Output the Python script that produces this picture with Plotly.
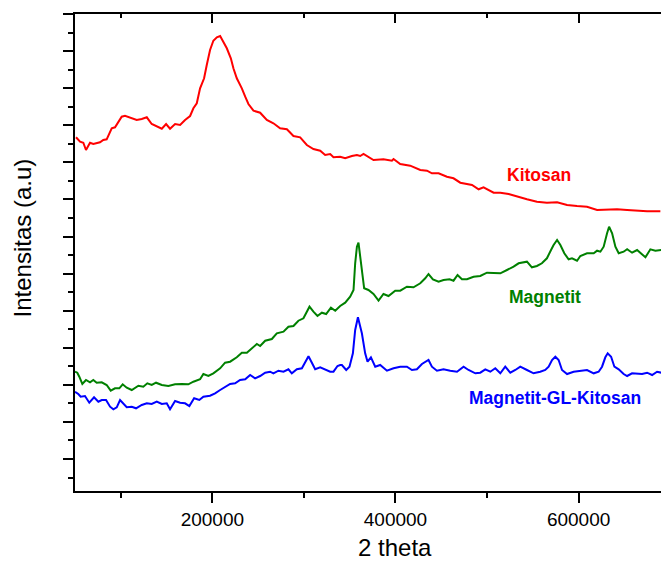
import plotly.graph_objects as go

# ---- data (2 theta, intensity in arbitrary units) ----
kitosan_x = [51100, 55500, 59100, 62000, 66400, 70000, 77300, 80900, 84600, 90100, 93700, 97300,
             101000, 104600, 110100, 117400, 122900, 128400, 133800, 139300, 144800, 149500, 153800,
             159300, 164800, 170200, 175700, 179300, 183000, 186600, 191000, 193900, 197500, 201100,
             204900, 208500, 212100, 215800, 220200, 223000, 226700, 232200, 235900, 239400, 244900,
             252200, 259500, 266700, 274000, 281400, 288600, 295900, 303200, 310400, 317800, 323200,
             328700, 332300, 339600, 345100, 352400, 357900, 361500, 365100, 376000, 386900, 396100,
             397900, 405200, 416100, 427100, 434400, 439800, 447100, 456200, 463400, 470800, 478100,
             483600, 490800, 496200, 507200, 514500, 523600, 532700, 543600, 554500, 565400, 576500,
             587400, 598300, 609200, 620200, 631100, 642000, 653000, 663900, 674800, 689300]
kitosan_y = [353.7, 349.3, 348.3, 341, 348.3, 347, 348.7, 351, 351.7, 362.7, 363.7, 368.3,
             374.3, 375.3, 373.7, 371, 372, 373.7, 367, 365, 362.3, 367, 362.3,
             367, 366, 371, 375, 382.7, 387.7, 402.7, 412.7, 426, 441, 450.3,
             453.7, 455, 449.3, 442.7, 432.7, 422.7, 412.7, 402.7, 394.3, 387, 380.3,
             378.3, 371, 367.7, 362.7, 361.7, 355, 353.7, 346, 342, 340.3, 336,
             337, 333.7, 334.3, 332.7, 335, 336, 335, 337, 331, 331.7, 330.3,
             332, 327, 325.3, 321, 320.3, 317.7, 317.7, 314.3, 312.7, 308.3, 307,
             306, 301.7, 303.7, 298.3, 298.3, 297, 294.3, 291.7, 289.3, 288.3, 288.7,
             286, 285, 284.3, 281, 281.7, 281.7, 281, 280.3, 279.7, 279.7]

magnetit_x = [50000, 52500, 54700, 58000, 62000, 66400, 70000, 73700, 79200, 84600, 89000, 93700,
              98400, 102100, 106500, 112000, 119200, 124600, 129000, 133800, 138500, 144800, 152000,
              159300, 166600, 173800, 179300, 186600, 190200, 195700, 201100, 208500, 213900, 219400,
              226700, 232200, 237700, 243100, 248600, 252200, 257700, 265000, 270400, 277700, 283100,
              288600, 294000, 299500, 306100, 310400, 314800, 319600, 324300, 329500, 334200, 339600,
              345100, 350500, 354200, 356000, 357900, 359600, 363300, 365800, 370500, 376000, 381500,
              386900, 392400, 399700, 405200, 412500, 419700, 427100, 432500, 436100, 440900, 447100,
              452500, 459100, 463400, 467800, 472600, 478100, 485300, 492600, 499900, 507200, 514500,
              521800, 529000, 534500, 539900, 543600, 549000, 554500, 559900, 565400, 569900, 572700,
              576500, 580100, 584400, 589100, 592800, 598300, 601900, 609200, 616500, 620200, 623800,
              627400, 631100, 633300, 636600, 640200, 643800, 649200, 653000, 658400, 663900, 667500,
              673000, 678400, 683900, 690400]
magnetit_y = [119.3, 118.3, 114.3, 107, 111, 108.7, 111, 108.3, 108.7, 106, 100.3, 102.7,
              102.7, 106.7, 103.3, 101, 105.3, 104.3, 107.7, 106, 108.3, 106, 105,
              106.7, 107, 106.7, 109.3, 111.7, 117, 115, 117.7, 122.7, 128.3, 129.3,
              133.7, 138.3, 138.3, 142.7, 147, 145, 150.3, 152, 157.7, 159.3, 164.3,
              165, 170.3, 172.7, 184.3, 179.3, 175, 178.3, 177, 183.3, 180.3, 185,
              188.3, 194.3, 201, 227.7, 244.3, 248.3, 221, 202.7, 201, 197, 190.3,
              197, 195, 200.3, 200.3, 204.3, 203.7, 207.7, 212.7, 217, 211.7, 209.3,
              211, 211.7, 210.3, 216, 211.7, 211.7, 214.3, 215, 218.3, 218.3, 217.7,
              221, 224.3, 227.7, 228.3, 229.3, 223.7, 225, 227.7, 232.7, 241, 246,
              251, 246, 237.7, 231.7, 232.7, 230.3, 235, 237.7, 237.7, 240.3, 239.3,
              244.3, 257.7, 264.3, 257.7, 244.3, 237.7, 239.3, 241.7, 238.3, 241, 238.3,
              233.7, 241.7, 240.3, 241]

mgk_x = [50000, 53600, 56200, 60900, 65600, 70800, 75500, 79200, 83900, 88300, 91900, 95600,
         99200, 102800, 106500, 112000, 116700, 122900, 128400, 133800, 139300, 144800, 150200,
         153800, 159300, 164800, 170200, 174900, 180100, 185800, 190200, 197500, 203000, 208500,
         213900, 219400, 224900, 230300, 235900, 241300, 246700, 252200, 257700, 263100, 266700,
         272200, 277700, 283100, 286800, 292300, 297800, 301400, 305000, 308700, 312300, 317800,
         323200, 328700, 332300, 336700, 339600, 341500, 346200, 349800, 353500, 356000, 359000,
         363300, 366900, 369500, 373200, 377900, 383300, 390700, 397900, 405200, 412500, 418000,
         423400, 428900, 436100, 439800, 445300, 452500, 459800, 467200, 474400, 479800, 487200,
         492600, 498100, 503600, 509000, 514500, 519900, 525400, 530900, 536300, 543600, 550800,
         558100, 563600, 567300, 571000, 574600, 578200, 581900, 587400, 594600, 601900, 609200,
         616500, 621900, 625600, 629200, 631800, 635500, 639100, 643800, 649200, 653000, 658400,
         663900, 669300, 674800, 680300, 685700, 690400]
mgk_y = [99.3, 97, 94.3, 95, 88.3, 93.7, 89.3, 91, 91, 84.3, 81.7, 83.7,
         91, 87.7, 83.7, 84.3, 82.7, 86, 87.7, 87, 89.3, 87, 87.7,
         81.7, 90, 88.3, 87.7, 85, 92.7, 91, 94.3, 95.3, 97.7, 101,
         104.3, 107, 107.7, 111, 111.7, 116, 112.7, 115, 118.3, 119.3, 117.7,
         120.3, 119.3, 121.7, 117.7, 121.7, 122.7, 128.3, 134.7, 128.3, 121.7, 123.7,
         121.7, 119.3, 119.3, 125, 126, 126, 121, 124.3, 137.7, 161, 173.7,
         157.7, 137.7, 129.3, 133.7, 124.3, 126, 120.3, 122.7, 124.3, 124.3, 121,
         121.7, 127, 131, 124.3, 120.3, 121.7, 120.3, 119.3, 124.3, 121, 117.7,
         118.3, 121.7, 119.3, 122.7, 117.7, 124.3, 118.3, 121, 124.3, 121, 117.7,
         119.3, 121, 124.3, 131, 134.3, 131, 121, 117, 119.3, 120.3, 121,
         117.7, 119.3, 124.3, 133.7, 137.7, 134.3, 124.3, 121.7, 117, 115, 117.7,
         117, 117, 118.3, 116, 119.3, 118.3]

series_names = ["Kitosan", "Magnetit", "Magnetit-GL-Kitosan"]
series_colors = ["#FF0000", "#008000", "#0000FF"]
label_x = [557000, 563700, 574600]
label_y = [316.5, 194, 93]

x_range = [50000, 690000]
y_range = [0, 477]
y_tick0 = 32
y_dtick = 37.08

FONT = "Liberation Sans, Arial, sans-serif"

fig = go.Figure()
for xs, ys, name, col in zip([kitosan_x, magnetit_x, mgk_x],
                             [kitosan_y, magnetit_y, mgk_y],
                             series_names, series_colors):
    fig.add_trace(go.Scatter(x=xs, y=ys, mode="lines", name=name,
                             line=dict(color=col, width=2), showlegend=False))

# invisible trace for top axis
fig.add_trace(go.Scatter(x=[x_range[0]], y=[y_range[0]], xaxis="x2", mode="markers",
                         marker=dict(opacity=0), showlegend=False, hoverinfo="skip"))

for name, col, lx, ly in zip(series_names, series_colors, label_x, label_y):
    fig.add_annotation(x=lx, y=ly, xref="x", yref="y", text="<b>%s</b>" % name,
                       showarrow=False, font=dict(family=FONT, size=17.5, color=col),
                       xanchor="center", yanchor="middle")

fig.add_annotation(x=400000, y=-0.087, xref="x", yref="paper", text="2 theta",
                   showarrow=False, font=dict(family=FONT, size=24, color="black"),
                   xanchor="center", yanchor="top")
fig.add_annotation(x=-0.09, y=0.53, xref="paper", yref="paper", text="Intensitas (a.u)",
                   textangle=-90, showarrow=False,
                   font=dict(family=FONT, size=24, color="black"),
                   xanchor="center", yanchor="middle")

fig.update_layout(
    width=661, height=561,
    margin=dict(l=75, r=0, t=14, b=70),
    paper_bgcolor="white", plot_bgcolor="white",
    font=dict(family=FONT, color="black"),
    xaxis=dict(range=x_range, showgrid=False, zeroline=False, showline=True,
               linecolor="black", linewidth=2, ticks="outside", ticklen=10, tickwidth=2,
               tickcolor="black", tick0=0, dtick=200000, tickformat="d",
               tickfont=dict(family=FONT, size=19, color="black"),
               minor=dict(ticks="outside", ticklen=5, tickwidth=2, tickcolor="black",
                          dtick=100000, tick0=0, showgrid=False)),
    xaxis2=dict(range=x_range, overlaying="x", side="top", showgrid=False, zeroline=False,
                showline=True, linecolor="black", linewidth=2, ticks="inside", ticklen=9,
                tickwidth=2, tickcolor="black", tick0=0, dtick=200000, showticklabels=False,
                minor=dict(ticks="inside", ticklen=4, tickwidth=2, tickcolor="black",
                           dtick=100000, tick0=0, showgrid=False)),
    yaxis=dict(range=y_range, showgrid=False, zeroline=False, showline=True,
               linecolor="black", linewidth=2, ticks="outside", ticklen=10, tickwidth=2,
               tickcolor="black", tick0=y_tick0, dtick=y_dtick, showticklabels=False,
               minor=dict(ticks="outside", ticklen=5, tickwidth=2, tickcolor="black",
                          dtick=y_dtick / 2, tick0=y_tick0, showgrid=False)),
)

fig.write_html("out.html", config={"displayModeBar": False},
               post_script="document.body.style.margin='0';document.body.style.overflow='hidden';")
